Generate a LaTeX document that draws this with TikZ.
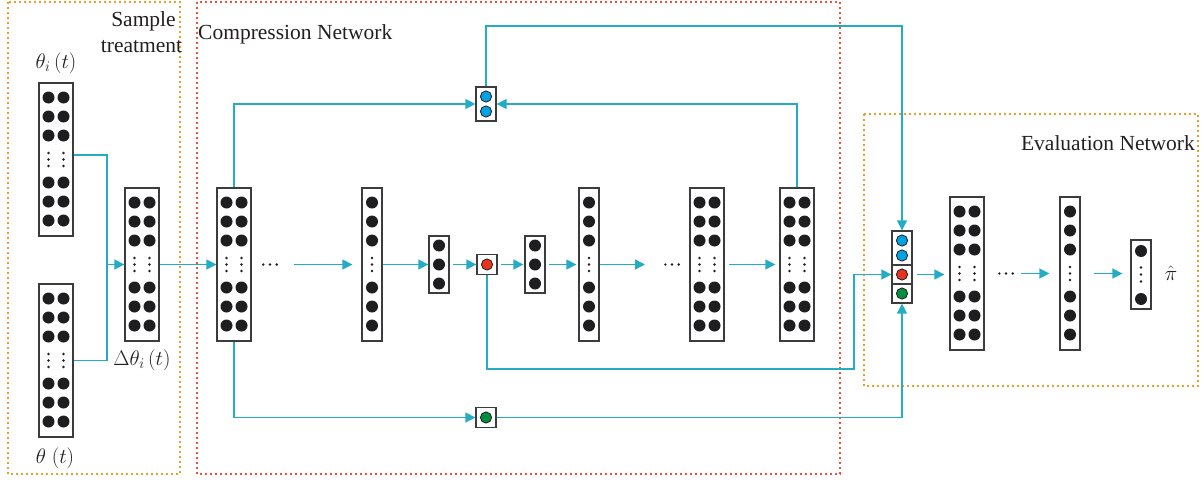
\RequirePackage{fix-cm}
\documentclass[tikz,border=0pt]{standalone}
\usepackage{fontspec}
\setmainfont{Liberation Serif}
\usetikzlibrary{arrows.meta,calc}
\definecolor{cyanline}{RGB}{35,172,196}
\definecolor{orangedot}{RGB}{228,160,40}
\definecolor{reddot}{RGB}{240,80,60}
\definecolor{boxgray}{RGB}{60,60,60}
\definecolor{neurblue}{RGB}{0,162,228}
\definecolor{neurred}{RGB}{232,52,30}
\definecolor{neurgreen}{RGB}{0,142,64}
\definecolor{neurblack}{RGB}{30,30,32}
\definecolor{txtgray}{RGB}{35,31,32}
\tikzset{
  layerbox/.style={draw=boxgray, line width=1.3pt, fill=white, inner sep=0pt, rectangle},
  conn/.style={draw=cyanline, line width=1.5pt},
  arr/.style={conn, -{Triangle[length=10pt,width=10pt]}},
  frameorange/.style={draw=orangedot, line width=1.6pt, dash pattern=on 1.6pt off 3.4pt},
  framered/.style={draw=reddot, line width=1.6pt, dash pattern=on 1.6pt off 3.4pt},
  lbl/.style={font=\fontsize{21.5}{25}\selectfont, inner sep=0pt, text=txtgray},
  mlbl/.style={font=\fontsize{21}{25}\selectfont, inner sep=0pt, text=txtgray},
  coldot/.style={draw=neurblack, line width=0.8pt},
}
\newcommand\bigdots[2]{%
  \foreach \dx in {#2}{%
    \foreach \dy in {-62,-43,-24,23,42,61}
      \fill[neurblack] ($(#1.center)+(\dx,\dy)$) circle (6pt);
    \foreach \dy in {-6.5,0,6.5}
      \fill[neurblack] ($(#1.center)+(\dx,\dy)$) circle (1.3pt);
  }}
\newcommand\threedots[1]{%
  \foreach \dy in {-19,0,19}
    \fill[neurblack] ($(#1.center)+(0,\dy)$) circle (6pt);}
\newcommand\hdotsat[2]{%
  \foreach \dx in {-6.7,0,6.7}
    \fill[neurblack] ($(#1,#2)+(\dx,0)$) circle (1.3pt);}
\begin{document}
\begin{tikzpicture}[x=1pt,y=-1pt]
\useasboundingbox (0,0) rectangle (1204,479);
% frames
\draw[frameorange] (8,2) rectangle (180,474);
\draw[framered] (197,2) rectangle (840,474);
\draw[frameorange] (864,114) rectangle (1198,386);
% labels
\node[lbl, anchor=base] (st1) at (143.5,27) {Sample};
\node[lbl, anchor=base] (st2) at (141.5,52) {treatment};
\node[lbl, anchor=base west] (cn) at (198,39) {Compression Network};
\node[lbl, anchor=base east] (en) at (1195,150) {Evaluation Network};
\node[mlbl, anchor=base] (ti) at (56,68) {$\theta_i\,(t)$};
\node[mlbl, anchor=base] (tt) at (55,463) {$\theta\;(t)$};
\node[mlbl, anchor=base] (dt) at (142,365) {$\Delta\theta_i\,(t)$};
\node[mlbl, anchor=base] (pihat) at (1171,280) {$\hat{\pi}$};
% layers
\node[layerbox, minimum width=34pt, minimum height=153pt] (A) at (56,159.5) {};
\node[layerbox, minimum width=34pt, minimum height=153pt] (B) at (56,360.5) {};
\node[layerbox, minimum width=34pt, minimum height=153pt] (C) at (142,264.5) {};
\node[layerbox, minimum width=34pt, minimum height=153pt] (D) at (234,264.5) {};
\node[layerbox, minimum width=20pt, minimum height=153pt] (E) at (372,264.5) {};
\node[layerbox, minimum width=20pt, minimum height=57pt] (F) at (439,264.5) {};
\node[layerbox, minimum width=20pt, minimum height=20pt] (Rn) at (487,264.5) {};
\node[layerbox, minimum width=20pt, minimum height=57pt] (H) at (535,264.5) {};
\node[layerbox, minimum width=20pt, minimum height=153pt] (I) at (589,264.5) {};
\node[layerbox, minimum width=34pt, minimum height=153pt] (J) at (707,264.5) {};
\node[layerbox, minimum width=34pt, minimum height=153pt] (K) at (797,264.5) {};
\node[layerbox, minimum width=20pt, minimum height=34pt] (Bn) at (486,104) {};
\node[layerbox, minimum width=20pt, minimum height=20pt] (Gn) at (486,417.5) {};
\node[layerbox, minimum width=20pt, minimum height=34pt] (Ecb) at (902,248) {};
\node[layerbox, minimum width=20pt, minimum height=19pt] (Ecr) at (902,274.5) {};
\node[layerbox, minimum width=20pt, minimum height=19pt] (Ecg) at (902,293.5) {};
\node[layerbox, minimum width=34pt, minimum height=153pt] (L) at (967,273.5) {};
\node[layerbox, minimum width=20pt, minimum height=153pt] (M) at (1070,273.5) {};
\node[layerbox, minimum width=20pt, minimum height=69pt] (N) at (1141,274.5) {};
% dots
\bigdots{A}{-7.5,7.5}
\bigdots{B}{-7.5,7.5}
\bigdots{C}{-7.5,7.5}
\bigdots{D}{-7.5,7.5}
\bigdots{E}{0}
\bigdots{I}{0}
\bigdots{J}{-7.5,7.5}
\bigdots{K}{-7.5,7.5}
\bigdots{L}{-7.5,7.5}
\bigdots{M}{0}
\threedots{F}
\threedots{H}
\fill[neurblack] ($(N.center)+(0,-23.5)$) circle (6pt);
\fill[neurblack] ($(N.center)+(0,24.5)$) circle (6pt);
\foreach \dy in {-7,0,7} \fill[neurblack] ($(N.center)+(0,\dy)$) circle (1.3pt);
\filldraw[coldot, fill=neurred] (Rn.center) circle (5.6pt);
\filldraw[coldot, fill=neurgreen] (Gn.center) circle (5.6pt);
\filldraw[coldot, fill=neurblue] ($(Bn.center)+(0,-7.5)$) circle (5.6pt);
\filldraw[coldot, fill=neurblue] ($(Bn.center)+(0,7.5)$) circle (5.6pt);
\filldraw[coldot, fill=neurblue] ($(Ecb.center)+(0,-7.5)$) circle (5.6pt);
\filldraw[coldot, fill=neurblue] ($(Ecb.center)+(0,7.5)$) circle (5.6pt);
\filldraw[coldot, fill=neurred] (Ecr.center) circle (5.6pt);
\filldraw[coldot, fill=neurgreen] (Ecg.center) circle (5.6pt);
\hdotsat{270}{264.5}
\hdotsat{672}{264.5}
\hdotsat{1006}{273.5}
% connectors
\coordinate (j1) at (107,264.5);
\draw[conn] ([yshift=4.5pt]A.east) -| (j1);
\draw[conn] (B.east) -| (j1);
\draw[arr] (j1) -- (C.west);
\draw[arr] (C.east) -- (D.west);
\coordinate (d1) at (294,264.5);
\draw[arr, shorten >=9pt] (d1) -- (E.west);
\draw[arr] (E.east) -- (F.west);
\draw[arr, shorten <=3pt] (F.east) -- (Rn.west);
\draw[arr, shorten <=3pt, shorten >=1pt] (Rn.east) -- (H.west);
\draw[arr, shorten <=3pt, shorten >=2pt] (H.east) -- (I.west);
\coordinate (d2) at (645,264.5);
\draw[arr] (I.east) -- (d2);
\draw[arr, shorten <=4pt, shorten >=4pt] (J.east) -- (K.west);
\draw[arr] (D.north) |- (Bn.west);
\draw[arr] (K.north) |- (Bn.east);
\coordinate (ctop) at (902,26);
\draw[arr] (Bn.north) |- (ctop) -- (Ecb.north);
\draw[arr] (D.south) |- (Gn.west);
\draw[arr] (Gn.east) -| (Ecg.south);
\coordinate (cr) at (854,369);
\draw[arr] (Rn.south) |- (cr) |- (Ecr.west);
\draw[arr, shorten <=4pt, shorten >=5pt] (Ecr.east) -- (Ecr.east -| L.west);
\coordinate (d4) at (1021,273.5);
\draw[arr, shorten >=10pt] (d4) -- (M.west);
\draw[arr, shorten <=13pt, shorten >=8pt] (M.east) -- (M.east -| N.west);
\end{tikzpicture}
\end{document}
